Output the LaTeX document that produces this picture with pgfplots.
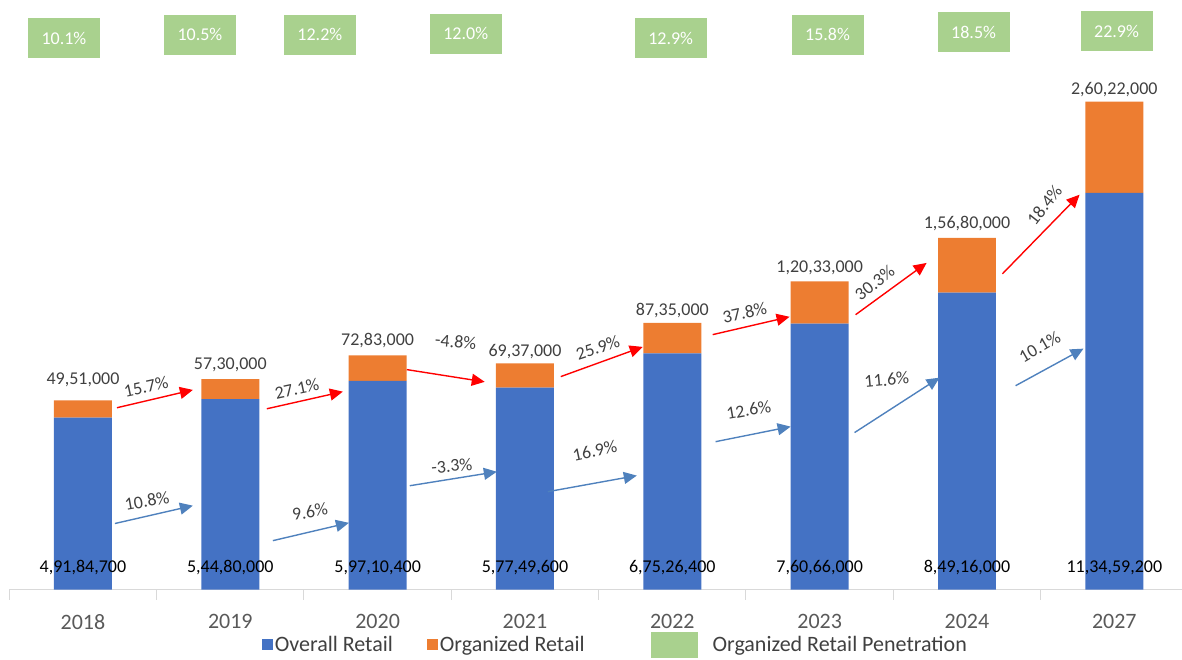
\documentclass[border=0pt]{standalone}
\usepackage{pgfplots}
\pgfplotsset{compat=1.18}
\usepackage{fontspec}
\setmainfont{Carlito}
\usetikzlibrary{arrows.meta}

\definecolor{overall}{HTML}{4472C4}
\definecolor{organized}{HTML}{ED7D31}
\definecolor{penetr}{HTML}{A9D18E}
\definecolor{blarrow}{HTML}{4F81BD}
\definecolor{txt}{HTML}{404040}
\definecolor{axisgray}{HTML}{D9D9D9}
\definecolor{ticklab}{HTML}{595959}

\pgfplotsset{
  base/.style={width=1173pt, height=590pt, scale only axis,
    xmin=-0.5, xmax=7.456, ymin=0, ymax=16.857, clip=false},
}
\tikzset{
  redarr/.style={draw=red, line width=1.4pt, -{Triangle[length=13pt,width=12pt]}},
  bluarr/.style={draw=blarrow, line width=1.4pt, -{Triangle[length=13pt,width=12pt]}},
  lab/.style={font=\fontsize{18}{20}\selectfont, text=txt, inner sep=1pt},
}

\begin{document}
\begin{tikzpicture}
% bars (values in crore)
\begin{axis}[base,
  ybar stacked, bar width=58pt,
  axis x line*=bottom, axis y line=none,
  x axis line style={axisgray, line width=1pt},
  xtick={0,...,7},
  xticklabels={2018,2019,2020,2021,2022,2023,2024,2027},
  major tick length=0pt,
  minor xtick={-0.5,0.5,1.5,2.5,3.5,4.5,5.5,6.5},
  minor tick length=10pt, tick align=outside,
  minor tick style={axisgray, line width=1pt},
  xticklabel style={font=\fontsize{22}{24}\selectfont, text=ticklab, yshift=-21pt},
  legend style={draw=none, fill=none, at={(axis description cs:0.517,-0.0932)}, anchor=center,
    font=\fontsize{22}{24}\selectfont, text=txt, legend columns=3,
    nodes={inner xsep=2pt, inner ysep=0pt},
    /tikz/every even column/.append style={column sep=32pt}},
  legend image code/.code={\fill[#1] (0pt,-5.5pt) rectangle (11pt,5.5pt);},
]
\addplot[fill=overall, draw=none] coordinates {
  (0,4.918470) (1,5.448000) (2,5.971040) (3,5.774960)
  (4,6.752640) (5,7.606600) (6,8.491600) (7,11.345920)};
\addlegendentry{Overall Retail}
\addplot[fill=organized, draw=none] coordinates {
  (0,0.4951) (1,0.5730) (2,0.7283) (3,0.6937)
  (4,0.8735) (5,1.2033) (6,1.5680) (7,2.6022)};
\addlegendentry{Organized Retail}
\addlegendimage{legend image code/.code={\path[draw=none,fill=none] (0pt,-1pt) rectangle (92pt,1pt);
  \fill[penetr] (33pt,-12.5pt) rectangle (79pt,12.5pt);}}
\addlegendentry{Organized Retail Penetration}
\end{axis}

% labels, penetration boxes and growth arrows
\begin{axis}[base, hide axis]
\path[draw=none] (axis cs:-0.563,0) rectangle (axis cs:-0.55,16.857);
% overall retail values
\addplot[draw=none, nodes near coords, point meta=explicit symbolic,
  every node near coord/.style={anchor=center, font=\fontsize{18}{20}\selectfont, text=black}]
  coordinates {
  (0,0.63) [4,91,84,700] (1,0.63) [5,44,80,000] (2,0.63) [5,97,10,400]
  (3,0.63) [5,77,49,600] (4,0.63) [6,75,26,400] (5,0.63) [7,60,66,000]
  (6,0.63) [8,49,16,000] (7,0.63) [11,34,59,200]};
% organized retail values, just above each stack
\addplot[draw=none, nodes near coords, point meta=explicit symbolic,
  every node near coord/.style={anchor=center, font=\fontsize{18}{20}\selectfont, text=txt}]
  coordinates {
  (0,6.01) [49,51,000] (1,6.43) [57,30,000] (2,7.11) [72,83,000]
  (3,6.80) [69,37,000] (4,7.97) [87,35,000] (5,9.20) [1,20,33,000]
  (6,10.46) [1,56,80,000] (7,14.29) [2,60,22,000]};
% organized retail penetration
\addplot[draw=none, nodes near coords, point meta=explicit symbolic,
  every node near coord/.style={anchor=center, fill=penetr, text=white,
    minimum width=72pt, minimum height=40pt, font=\fontsize{18}{20}\selectfont}]
  coordinates {
  (-0.129,15.77) [10.1\%] (0.794,15.86) [10.5\%] (1.608,15.86) [12.2\%]
  (2.598,15.89) [12.0\%] (3.989,15.77) [12.9\%] (5.054,15.86) [15.8\%]
  (6.045,15.94) [18.5\%] (7.015,15.97) [22.9\%]};

% organized retail growth
\draw[redarr] (axis cs:0.231,5.20) -- (axis cs:0.746,5.71);
\node[lab, rotate=12] at (axis cs:0.428,5.80) {15.7\%};
\draw[redarr] (axis cs:1.248,5.17) -- (axis cs:1.764,5.66);
\node[lab, rotate=12] at (axis cs:1.452,5.75) {27.1\%};
\draw[redarr] (axis cs:2.198,6.29) -- (axis cs:2.727,5.94);
\node[lab, rotate=-5] at (axis cs:2.530,7.09) {-4.8\%};
\draw[redarr] (axis cs:3.243,6.09) -- (axis cs:3.799,6.94);
\node[lab, rotate=18] at (axis cs:3.494,6.91) {25.9\%};
\draw[redarr] (axis cs:4.274,7.29) -- (axis cs:4.796,7.80);
\node[lab, rotate=12] at (axis cs:4.491,7.91) {37.8\%};
\draw[redarr] (axis cs:5.244,7.86) -- (axis cs:5.726,9.34);
\node[lab, rotate=38] at (axis cs:5.373,8.77) {30.3\%};
\draw[redarr] (axis cs:6.241,9.03) -- (axis cs:6.764,11.29);
\node[lab, rotate=52] at (axis cs:6.526,11.00) {18.4\%};

% overall retail growth
\draw[bluarr] (axis cs:0.217,1.89) -- (axis cs:0.746,2.40);
\node[lab, rotate=10] at (axis cs:0.434,2.54) {10.8\%};
\draw[bluarr] (axis cs:1.289,1.40) -- (axis cs:1.805,1.91);
\node[lab, rotate=10] at (axis cs:1.540,2.23) {9.6\%};
\draw[bluarr] (axis cs:2.218,2.97) -- (axis cs:2.809,3.37);
\node[lab, rotate=5] at (axis cs:2.503,3.54) {-3.3\%};
\draw[bluarr] (axis cs:3.155,2.80) -- (axis cs:3.759,3.26);
\node[lab, rotate=12] at (axis cs:3.474,3.97) {16.9\%};
\draw[bluarr] (axis cs:4.294,4.23) -- (axis cs:4.803,4.66);
\node[lab, rotate=10] at (axis cs:4.518,5.14) {12.6\%};
\draw[bluarr] (axis cs:5.237,4.49) -- (axis cs:5.814,6.06);
\node[lab, rotate=5] at (axis cs:5.455,6.00) {11.6\%};
\draw[bluarr] (axis cs:6.330,5.83) -- (axis cs:6.791,6.89);
\node[lab, rotate=30] at (axis cs:6.493,6.94) {10.1\%};
\end{axis}
\end{tikzpicture}
\end{document}
